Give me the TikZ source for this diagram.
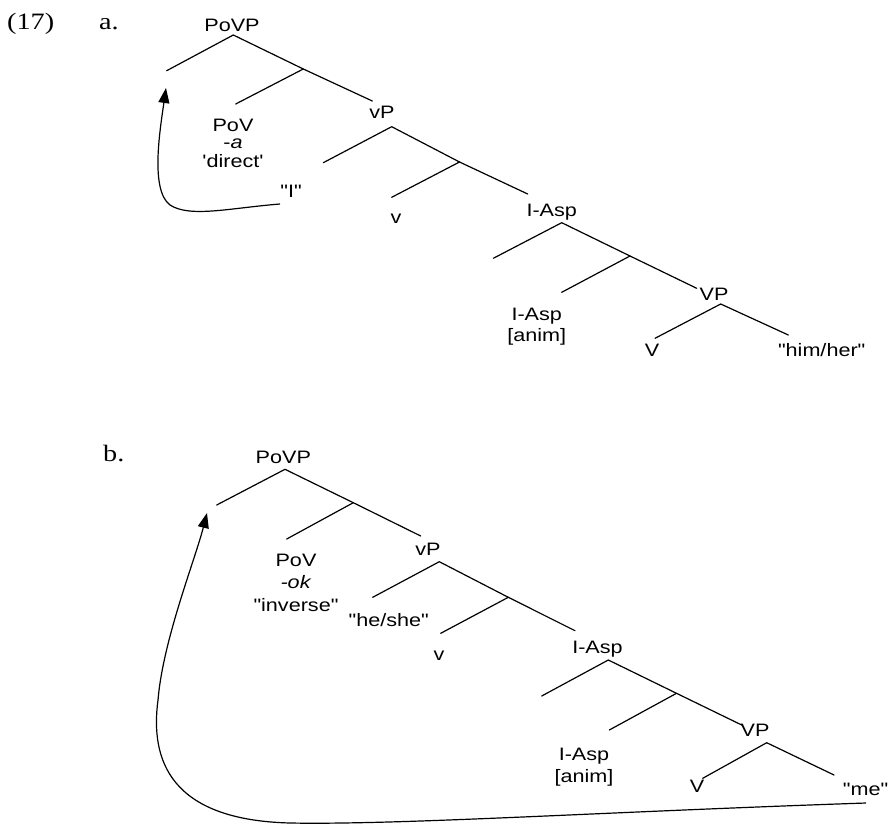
\documentclass[tikz,border=0pt]{standalone}
\usepackage{fontspec}
\setmainfont[FakeStretch=1.2,Ligatures=TeXOff]{Liberation Serif}
\setsansfont[FakeStretch=1.2,Ligatures=TeXOff]{Liberation Sans}
\usetikzlibrary{arrows.meta}
\begin{document}
\begin{tikzpicture}[x=1pt,y=-1pt,
  lbl/.style={font=\sffamily\fontsize{18}{18}\selectfont,inner sep=0pt,anchor=base},
  num/.style={font=\rmfamily\fontsize{23.5}{23.5}\selectfont,inner sep=0pt,anchor=base west},
  br/.style={line width=1.2pt,line cap=round},
  mv/.style={line width=1.2pt,-{Triangle[length=15pt,width=11pt]}}]
\useasboundingbox[fill=white] (0,0) rectangle (888,824);

% ---------- (17) a. ----------
\node[num] (ex) at (7,29.5) {(17)};
\node[num] (la) at (99,29.5) {a.};

\node[lbl] (tPoVP) at (232,32) {PoVP};
\node[lbl] (tPoV1) at (233,131.5) {PoV};
\node[lbl] (tPoV2) at (233,148) {-\textit{a}};
\node[lbl] (tPoV3) at (233,167.5) {'direct'};
\node[lbl] (tvP) at (382,118) {vP};
\node[lbl] (tI) at (291,197) {"I"};
\node[lbl] (tv) at (396,223) {v};
\node[lbl] (tIAsp) at (551.7,216.5) {I-Asp};
\node[lbl] (tIAsp1) at (536.7,320) {I-Asp};
\node[lbl] (tIAsp2) at (536.7,341) {[anim]};
\node[lbl] (tVP) at (714,300) {VP};
\node[lbl] (tV) at (652,356) {V};
\node[lbl] (thim) at (821.7,356.5) {"him/her"};

\coordinate (ta0) at (233.3,35);
\coordinate (ta0L) at (166.7,70.7);
\coordinate (ta1) at (303.3,69);
\coordinate (ta1L) at (235.7,104);
\coordinate (ta1R) at (372.3,101);
\coordinate (tb0) at (391.7,126.7);
\coordinate (tb0L) at (323.3,162.7);
\coordinate (tb1) at (459.5,162);
\coordinate (tb1L) at (391.7,197.3);
\coordinate (tb1R) at (527.7,194);
\coordinate (tc0) at (561.7,222.7);
\coordinate (tc0L) at (493.3,258.3);
\coordinate (tc1) at (630,256);
\coordinate (tc1L) at (561.7,292.3);
\coordinate (tc1R) at (696.7,288.3);
\coordinate (td0) at (720.7,304);
\coordinate (td0L) at (655,338.3);
\coordinate (td0R) at (788.3,335);

\draw[br] (ta0L) -- (ta0) -- (ta1) -- (ta1R);
\draw[br] (ta1) -- (ta1L);
\draw[br] (tb0L) -- (tb0) -- (tb1) -- (tb1R);
\draw[br] (tb1) -- (tb1L);
\draw[br] (tc0L) -- (tc0) -- (tc1) -- (tc1R);
\draw[br] (tc1) -- (tc1L);
\draw[br] (td0L) -- (td0) -- (td0R);

\coordinate (tmvS) at (280,204);
\coordinate (tmvE) at (166,88);
\draw[mv] (tmvS) .. controls (230,208) and (190,218) .. (170,205)
  .. controls (150,190) and (160,130) .. (tmvE);

% ---------- b. ----------
\node[num] (lb) at (103,461) {b.};

\node[lbl] (bPoVP) at (283.3,463) {PoVP};
\node[lbl] (bPoV1) at (296,566) {PoV};
\node[lbl] (bPoV2) at (296,588.5) {\textit{-ok}};
\node[lbl] (bPoV3) at (296,611) {"inverse"};
\node[lbl] (bvP) at (428,555) {vP};
\node[lbl] (bhe) at (388.8,626.5) {"he/she"};
\node[lbl] (bv) at (439,660) {v};
\node[lbl] (bIAsp) at (597.5,653) {I-Asp};
\node[lbl] (bIAsp1) at (584,760) {I-Asp};
\node[lbl] (bIAsp2) at (584,782) {[anim]};
\node[lbl] (bVP) at (755,736.5) {VP};
\node[lbl] (bV) at (697,792) {V};
\node[lbl] (bme) at (865.5,795) {"me"};

\coordinate (ba0) at (285,469.3);
\coordinate (ba0L) at (216.7,505);
\coordinate (ba1) at (353.3,502.7);
\coordinate (ba1L) at (286.7,539);
\coordinate (ba1R) at (420.7,536);
\coordinate (bb0) at (439.3,561.7);
\coordinate (bb0L) at (372.7,597.3);
\coordinate (bb1) at (508.3,597.3);
\coordinate (bb1L) at (440.7,633.3);
\coordinate (bb1R) at (575,630.7);
\coordinate (bc0) at (608.3,660);
\coordinate (bc0L) at (541.7,696);
\coordinate (bc1) at (676.5,693.3);
\coordinate (bc1L) at (609.3,730);
\coordinate (bc1R) at (741.7,725);
\coordinate (bd0) at (766.7,742.7);
\coordinate (bd0L) at (702.7,778.3);
\coordinate (bd0R) at (834,775);

\draw[br] (ba0L) -- (ba0) -- (ba1) -- (ba1R);
\draw[br] (ba1) -- (ba1L);
\draw[br] (bb0L) -- (bb0) -- (bb1) -- (bb1R);
\draw[br] (bb1) -- (bb1L);
\draw[br] (bc0L) -- (bc0) -- (bc1) -- (bc1R);
\draw[br] (bc1) -- (bc1L);
\draw[br] (bd0L) -- (bd0) -- (bd0R);

\coordinate (bmvS) at (866,803);
\coordinate (bmvE) at (207,513);
\draw[mv] (bmvS) .. controls (600,812) and (400,825) .. (290,823)
  .. controls (170,820) and (150,760) .. (158,700)
  .. controls (163,640) and (195,560) .. (bmvE);
\end{tikzpicture}
\end{document}
